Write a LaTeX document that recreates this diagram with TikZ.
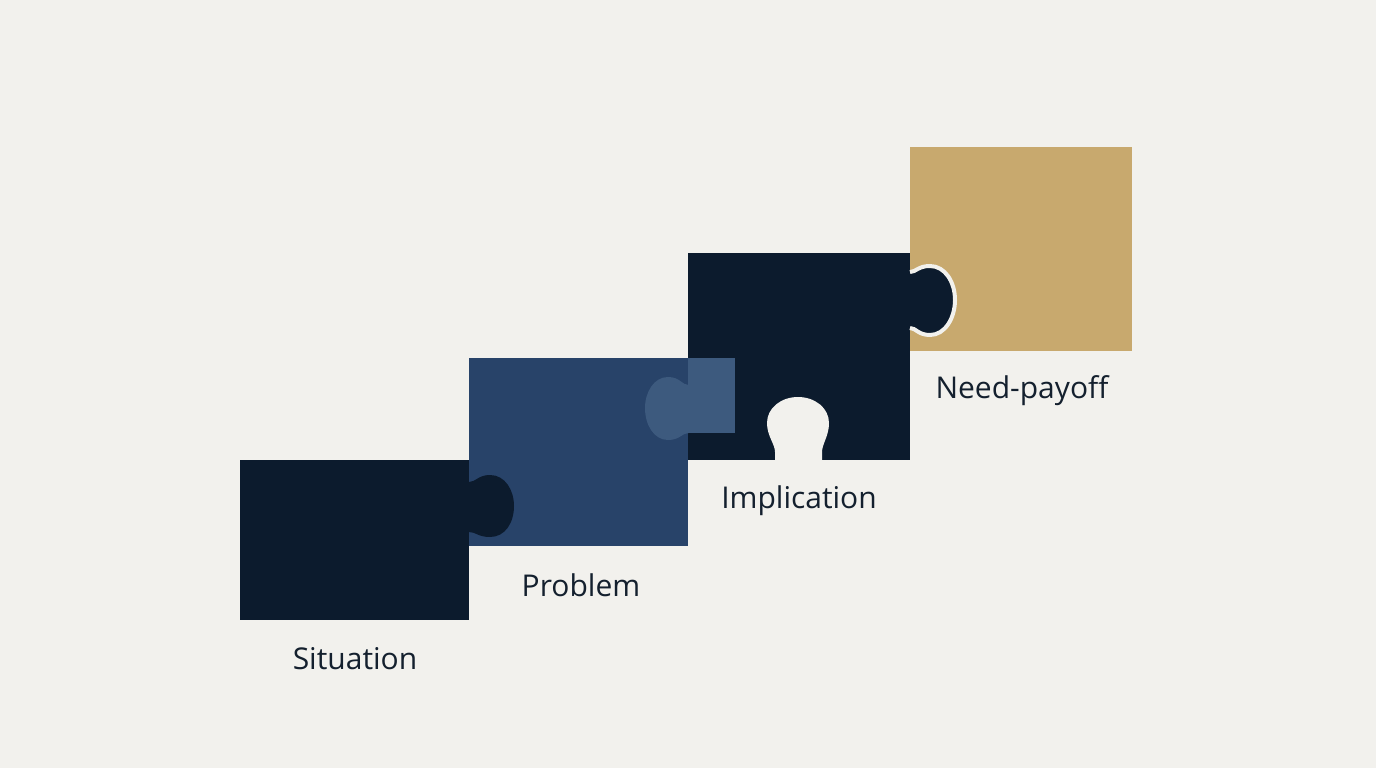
\documentclass[tikz,border=0pt]{standalone}
\usepackage{fontspec}
\setmainfont{Open Sans}
\definecolor{bg}{HTML}{F2F1ED}
\definecolor{navy}{HTML}{0C1B2D}
\definecolor{blue}{HTML}{284369}
\definecolor{lightblue}{HTML}{3D5A7E}
\definecolor{gold}{HTML}{C8A96E}
\definecolor{ink}{HTML}{14202E}
\begin{document}
\begin{tikzpicture}[x=1pt,y=-1pt,
  lbl/.style={font=\fontsize{30}{34}\selectfont,text=ink,anchor=base,inner sep=0pt}]
\useasboundingbox (0,0) rectangle (1376,768);
\fill[bg] (0,0) rectangle (1376,768);
% Need-payoff
\fill[gold] (910,147) rectangle (1132,351);
% Implication
\fill[navy] (688,253) rectangle (910,460);
\fill[bg] (775,461) -- (775,452) .. controls (775,444) and (767,436) .. (767,423)
  .. controls (767,408) and (781,397) .. (798,397)
  .. controls (815,397) and (829,408) .. (829,423)
  .. controls (829,436) and (822,444) .. (822,452) -- (822,461) -- cycle;
\fill[navy] (908,272) -- (910,272) .. controls (916,272) and (918,266) .. (930,266)
  .. controls (945,266) and (955,282) .. (955,300)
  .. controls (955,318) and (945,335) .. (930,335)
  .. controls (918,335) and (916,328) .. (910,328) -- (908,328) -- cycle;
\draw[bg,line width=4pt] (910,272) .. controls (916,272) and (918,266) .. (930,266)
  .. controls (945,266) and (955,282) .. (955,300)
  .. controls (955,318) and (945,335) .. (930,335)
  .. controls (918,335) and (916,328) .. (910,328);
% Problem
\fill[blue] (469,358) rectangle (688,546);
\fill[lightblue] (688,358) rectangle (735,433);
\fill[lightblue] (688.5,385) .. controls (682,385) and (680,377) .. (668,377)
  .. controls (654,377) and (645,392) .. (645,408)
  .. controls (645,425) and (654,440) .. (668,440)
  .. controls (680,440) and (682,433) .. (688.5,433) -- cycle;
% Situation
\fill[navy] (240,460) rectangle (469,620);
\fill[navy] (468,482) -- (469,482) .. controls (476,482) and (478,475) .. (490,475)
  .. controls (505,475) and (514,490) .. (514,506)
  .. controls (514,523) and (505,537) .. (490,537)
  .. controls (478,537) and (476,532) .. (469,532) -- (468,532) -- cycle;
% labels
\node[lbl] (sit) at (355,669) {Situation};
\node[lbl] (pro) at (581,596) {Problem};
\node[lbl] (imp) at (799,508) {Implication};
\node[lbl] (need) at (1022,398) {Need-payoff};
\end{tikzpicture}
\end{document}
